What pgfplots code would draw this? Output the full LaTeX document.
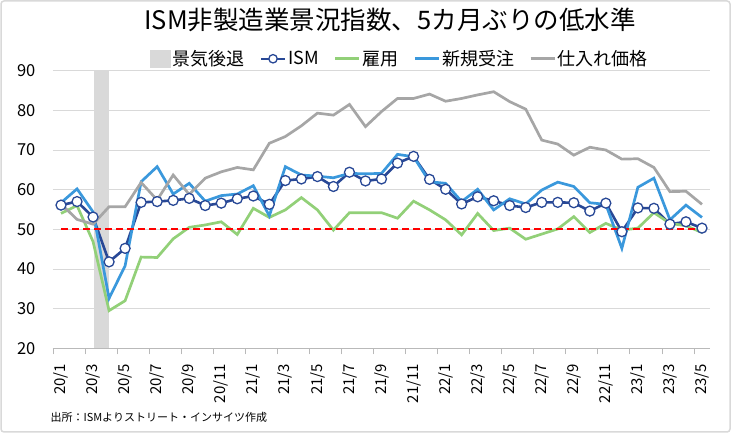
\documentclass[border=0pt]{standalone}
\usepackage{pgfplots}
\usepackage{pgfplotstable}
\usepackage{fontspec}
\pgfplotsset{compat=1.18}
\setmainfont{Noto Sans CJK JP}
\definecolor{ismblue}{RGB}{40,72,150}
\definecolor{neworder}{RGB}{58,152,220}
\definecolor{empgreen}{RGB}{146,208,120}
\definecolor{pricegray}{RGB}{166,166,166}
\definecolor{recgray}{RGB}{217,217,217}
\definecolor{gridgray}{RGB}{217,217,217}
\definecolor{dashred}{RGB}{255,0,0}

\pgfplotstableread{
i ism emp neword price
0 56.1 54.0 56.7 56.4
1 57.0 56.0 60.2 52.5
2 53.1 46.9 54.4 51.3
3 41.8 29.5 32.6 55.7
4 45.2 32.0 40.8 55.7
5 56.8 43.0 62.0 61.8
6 57.0 42.9 65.8 57.4
7 57.3 47.6 58.9 63.7
8 57.8 50.5 61.6 58.8
9 56.0 51.1 57.1 62.9
10 56.6 51.9 58.5 64.5
11 57.7 48.7 58.9 65.6
12 58.4 55.3 61.0 65.0
13 56.3 53.0 53.4 71.7
14 62.3 54.9 65.8 73.4
15 62.7 58.0 63.7 76.1
16 63.3 54.9 63.4 79.3
17 60.8 49.8 63.0 78.8
18 64.4 54.2 64.1 81.5
19 62.2 54.2 64.0 75.9
20 62.7 54.2 64.1 79.7
21 66.7 52.8 68.9 83.0
22 68.4 57.1 68.3 83.0
23 62.6 54.9 62.0 84.1
24 60.1 52.4 61.6 82.3
25 56.4 48.6 57.0 83.0
26 58.2 54.0 60.1 83.9
27 57.2 49.7 54.9 84.7
28 56.0 50.3 57.7 82.2
29 55.5 47.5 56.4 80.3
30 56.8 48.8 59.9 72.5
31 56.8 50.1 61.9 71.5
32 56.7 53.2 60.8 68.7
33 54.6 49.2 56.7 70.7
34 56.6 51.5 56.3 70.0
35 49.4 49.8 45.2 67.7
36 55.4 50.3 60.6 67.8
37 55.3 54.2 62.9 65.6
38 51.3 51.5 52.4 59.5
39 51.9 50.9 56.1 59.6
40 50.3 49.2 53.0 56.3
}\datatable

\pgfplotstableread{
x y
0 50
40 50
}\reftable

\begin{document}
\begin{tikzpicture}[x=1pt,y=1pt]
\useasboundingbox (0,0) rectangle (731,433);
\draw[gridgray, line width=1.5pt, rounded corners=3pt] (1,1) rectangle (730,432);
\node[font=\fontsize{25.5}{28}\selectfont] at (390,413) {ISM非製造業景況指数、5カ月ぶりの低水準};
\node[anchor=west, font=\fontsize{11}{13}\selectfont] at (47,16) {出所：ISMよりストリート・インサイツ作成};
\begin{axis}[
  at={(53pt,84.7pt)}, anchor=south west,
  scale only axis, width=657pt, height=277.6pt,
  xmin=-0.5, xmax=40.5, ymin=20, ymax=90,
  ytick={20,30,...,90},
  ymajorgrids, grid style={gridgray, line width=0.9pt},
  axis x line=bottom, axis y line=left,
  x axis line style={-, draw=gray!55, line width=0.9pt},
  y axis line style={draw=none},
  y tick style={draw=none},
  xtick={0,2,...,40},
  xticklabels={20/1,20/3,20/5,20/7,20/9,20/11,21/1,21/3,21/5,21/7,21/9,21/11,22/1,22/3,22/5,22/7,22/9,22/11,23/1,23/3,23/5},
  major x tick style={draw=none},
  minor xtick={-0.5,1.5,...,39.5},
  minor x tick style={draw=gray!55, line width=0.8pt},
  minor tick length=6pt,
  xtick align=outside,
  /pgf/number format/assume math mode=true,
  yticklabel style={font=\fontsize{16.5}{18}\selectfont, xshift=-12pt},
  xticklabel style={font=\fontsize{15}{16}\selectfont, rotate=90, anchor=east, xshift=-8pt},
  legend columns=5,
  legend style={at={(0.528,1.043)}, anchor=center, draw=none, fill=none,
    font=\fontsize{18}{20}\selectfont,
    /tikz/every even column/.append style={column sep=13pt},
    inner sep=0pt},
  legend image code/.code={\draw[#1] (0pt,0pt) -- (24pt,0pt);},
  legend cell align=left,
  clip=true,
]
\addplot[fill=recgray, draw=none, legend image code/.code={\fill[recgray] (0pt,-9pt) rectangle (21pt,9pt);}] coordinates {(2.05,20) (2.05,90) (3,90) (3,20)} -- cycle;
\addlegendentry{景気後退}
\addplot[ismblue, line width=2.6pt, mark=*, mark size=5pt, mark options={fill=white, draw=ismblue, line width=1.3pt},
  legend image code/.code={\draw[ismblue, line width=2.4pt] (0pt,0pt) -- (24pt,0pt); \draw[fill=white, draw=ismblue, line width=1.3pt] (12pt,0pt) circle (4.2pt);}] table[x=i, y=ism] {\datatable};
\addlegendentry{ISM}
\addplot[empgreen, line width=2.7pt] table[x=i, y=emp] {\datatable};
\addlegendentry{雇用}
\addplot[neworder, line width=2.7pt] table[x=i, y=neword] {\datatable};
\addlegendentry{新規受注}
\addplot[pricegray, line width=2.7pt] table[x=i, y=price] {\datatable};
\addlegendentry{仕入れ価格}
\addplot[draw=dashred, color=dashred, line width=1.8pt, dash pattern=on 7pt off 4pt, forget plot] table[x=x, y=y] {\reftable};
\end{axis}
\end{tikzpicture}
\end{document}
